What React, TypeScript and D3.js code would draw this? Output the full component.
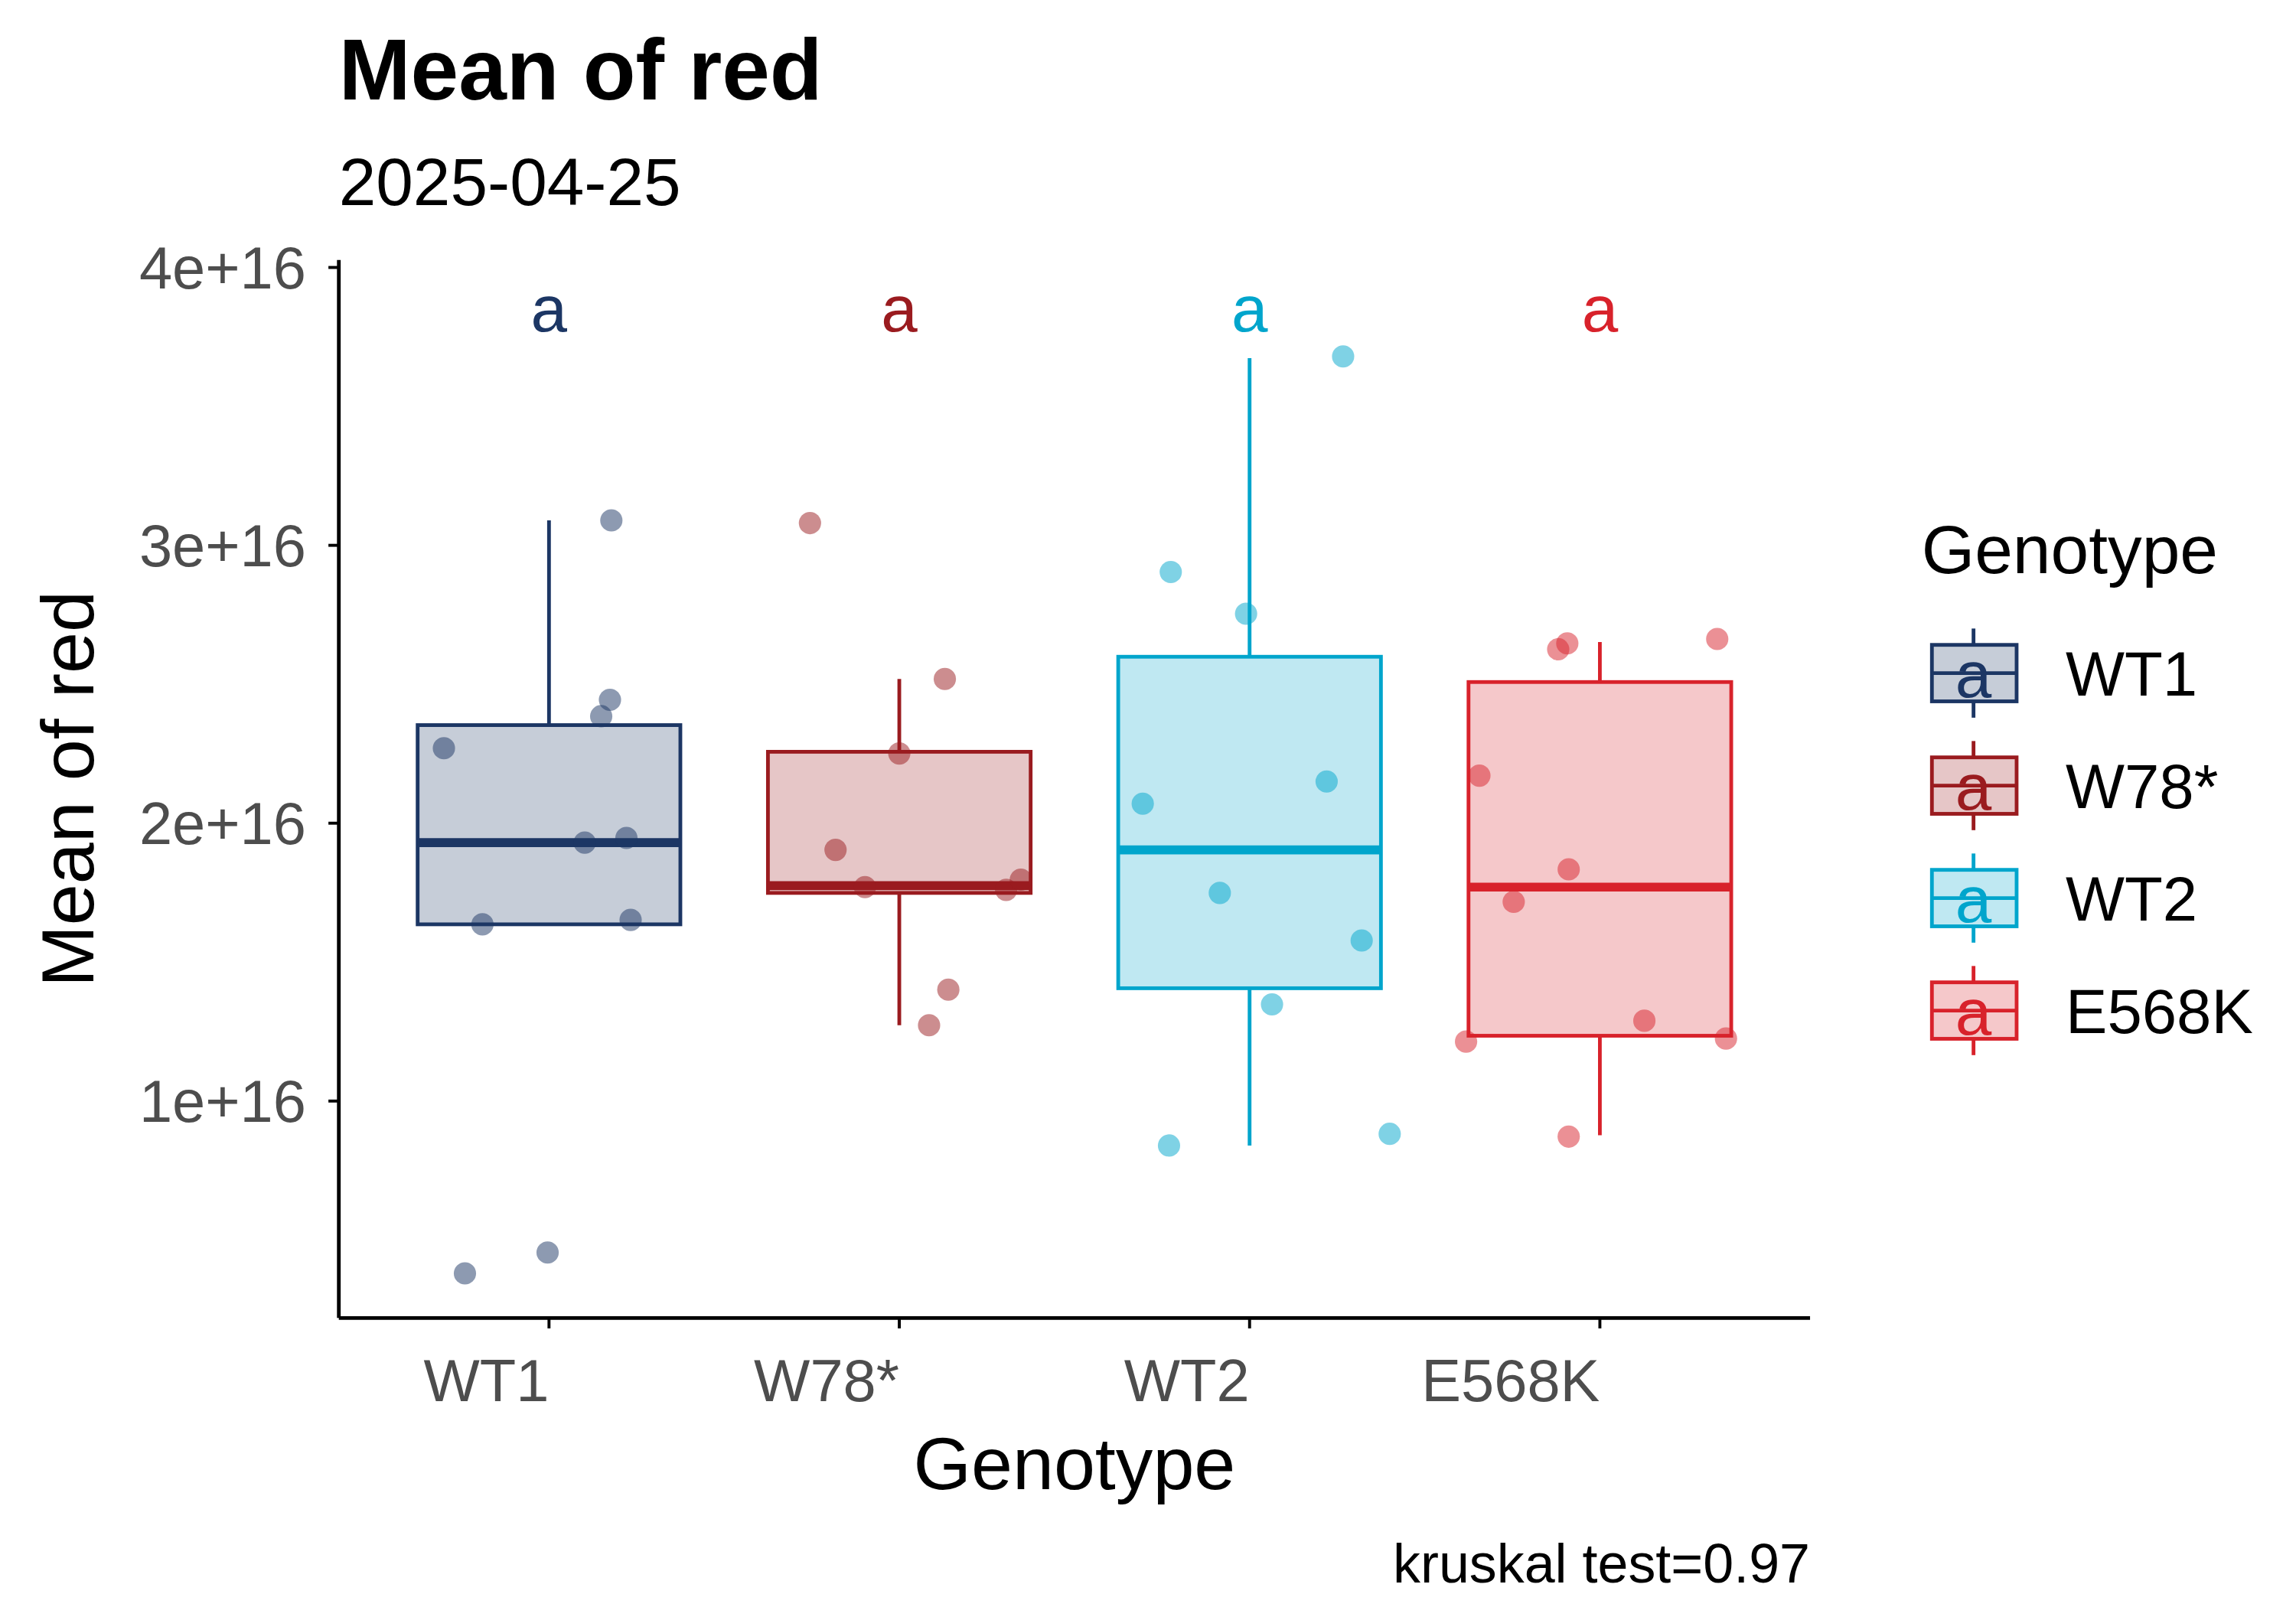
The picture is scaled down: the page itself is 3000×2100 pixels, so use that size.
import React from "react";
import * as d3 from "d3";

const genotypes = ["WT1", "W78*", "WT2", "E568K"];
const colors = ["#1C3664", "#9A1B1F", "#00A5CC", "#D8222B"];
// box stats in units of 1e16: [lowerWhisker, q1, median, q3, upperWhisker]
const boxStats = [
  [1.636, 1.636, 1.93, 2.353, 3.09],
  [1.273, 1.749, 1.775, 2.257, 2.519],
  [0.84, 1.406, 1.904, 2.599, 3.674],
  [0.877, 1.235, 1.77, 2.508, 2.652],
];
// points: [genotype index, jitter offset (category units), value (1e16)]
const points: [number, number, number][] = [
  [0, -0.3, 2.27], [0, -0.19, 1.636], [0, -0.004, 0.455], [0, -0.24, 0.38], [0, 0.102, 1.93],
  [0, 0.149, 2.385], [0, 0.174, 2.444], [0, 0.178, 3.09], [0, 0.221, 1.947], [0, 0.233, 1.652],
  [1, -0.255, 3.08], [1, -0.182, 1.904], [1, -0.098, 1.77], [1, 0, 2.251], [1, 0.13, 2.519],
  [1, 0.14, 1.401], [1, 0.085, 1.273], [1, 0.305, 1.76], [1, 0.347, 1.797],
  [2, 0.267, 3.68], [2, -0.225, 2.904], [2, -0.01, 2.754], [2, -0.305, 2.07], [2, 0.22, 2.15],
  [2, -0.085, 1.749], [2, 0.32, 1.578], [2, 0.064, 1.348], [2, 0.4, 0.882], [2, -0.23, 0.84],
  [3, -0.119, 2.626], [3, -0.093, 2.647], [3, 0.335, 2.663], [3, -0.344, 2.171], [3, -0.089, 1.834],
  [3, -0.246, 1.717], [3, -0.382, 1.214], [3, 0.127, 1.289], [3, 0.36, 1.225], [3, -0.089, 0.872],
];
const yTicks = [1, 2, 3, 4];
const yTickLabels = ["1e+16", "2e+16", "3e+16", "4e+16"];
const letters = ["a", "a", "a", "a"];

const L = 228, R = 1218, T = 175, B = 887;
const font = "'Liberation Sans', Arial, sans-serif";

export default function App() {
  const x = d3.scaleLinear().domain([0.4, 4.6]).range([L, R]);
  const y = d3.scaleLinear().domain([1, 2]).range([741, 554]);
  const bw = x(0.375) - x(0);
  return (
    <svg width={3000} height={2100} viewBox="0 0 1545 1081.5"
      style={{ position: "absolute", left: 0, top: 0, background: "#fff" }} fontFamily={font}>
      <rect x={0} y={0} width={1545} height={1081.5} fill="#fff" />
      <text x={228} y={67} fontSize={58} fontWeight="bold">Mean of red</text>
      <text x={228} y={138} fontSize={45}>2025-04-25</text>
      {genotypes.map((g, i) => {
        const cx = x(i + 1);
        const [lw, q1, md, q3, uw] = boxStats[i];
        const c = colors[i];
        return (
          <g key={g}>
            <line x1={cx} x2={cx} y1={y(uw)} y2={y(q3)} stroke={c} strokeWidth={2.5} />
            <line x1={cx} x2={cx} y1={y(q1)} y2={y(lw)} stroke={c} strokeWidth={2.5} />
            <rect x={cx - bw} width={2 * bw} y={y(q3)} height={y(q1) - y(q3)}
              fill={c} fillOpacity={0.25} stroke={c} strokeWidth={2.5} />
            <line x1={cx - bw} x2={cx + bw} y1={y(md)} y2={y(md)} stroke={c} strokeWidth={6} />
            <text x={cx} y={223} fontSize={44} fill={c} textAnchor="middle">{letters[i]}</text>
          </g>
        );
      })}
      {points.map(([gi, off, v], k) => (
        <circle key={k} cx={x(gi + 1 + off)} cy={y(v)} r={7.5} fill={colors[gi]} fillOpacity={0.5} />
      ))}
      <line x1={L} x2={L} y1={T} y2={B} stroke="#000" strokeWidth={2.5} />
      <line x1={L} x2={R} y1={B} y2={B} stroke="#000" strokeWidth={2.5} />
      {yTicks.map((t, i) => (
        <g key={t}>
          <line x1={L - 7} x2={L} y1={y(t)} y2={y(t)} stroke="#000" strokeWidth={2} />
          <text x={L - 22} y={y(t) + 14} fontSize={40} fill="#4D4D4D" textAnchor="end">{yTickLabels[i]}</text>
        </g>
      ))}
      {genotypes.map((g, i) => (
        <g key={g}>
          <line x1={x(i + 1)} x2={x(i + 1)} y1={B} y2={B + 7} stroke="#000" strokeWidth={2} />
          <text x={x(i + 1)} y={943} fontSize={40} fill="#4D4D4D" textAnchor="end">{g}</text>
        </g>
      ))}
      <text x={723} y={1002} fontSize={50} textAnchor="middle">Genotype</text>
      <text transform="translate(63,531) rotate(-90)" fontSize={50} textAnchor="middle">Mean of red</text>
      <text x={1218} y={1065} fontSize={37} textAnchor="end">kruskal test=0.97</text>
      <text x={1293} y={386} fontSize={46}>Genotype</text>
      {genotypes.map((g, i) => {
        const cy = 453 + i * 75.7;
        const c = colors[i];
        return (
          <g key={g}>
            <line x1={1328} x2={1328} y1={cy - 30} y2={cy + 30} stroke={c} strokeWidth={2.5} />
            <rect x={1300} y={cy - 19} width={57} height={38} fill="#fff" />
            <rect x={1300} y={cy - 19} width={57} height={38} fill={c} fillOpacity={0.25} stroke={c} strokeWidth={2.5} />
            <line x1={1300} x2={1357} y1={cy} y2={cy} stroke={c} strokeWidth={2.5} />
            <text x={1328} y={cy + 16} fontSize={44} fill={c} textAnchor="middle">a</text>
            <text x={1390} y={cy + 15} fontSize={42}>{g}</text>
          </g>
        );
      })}
    </svg>
  );
}
